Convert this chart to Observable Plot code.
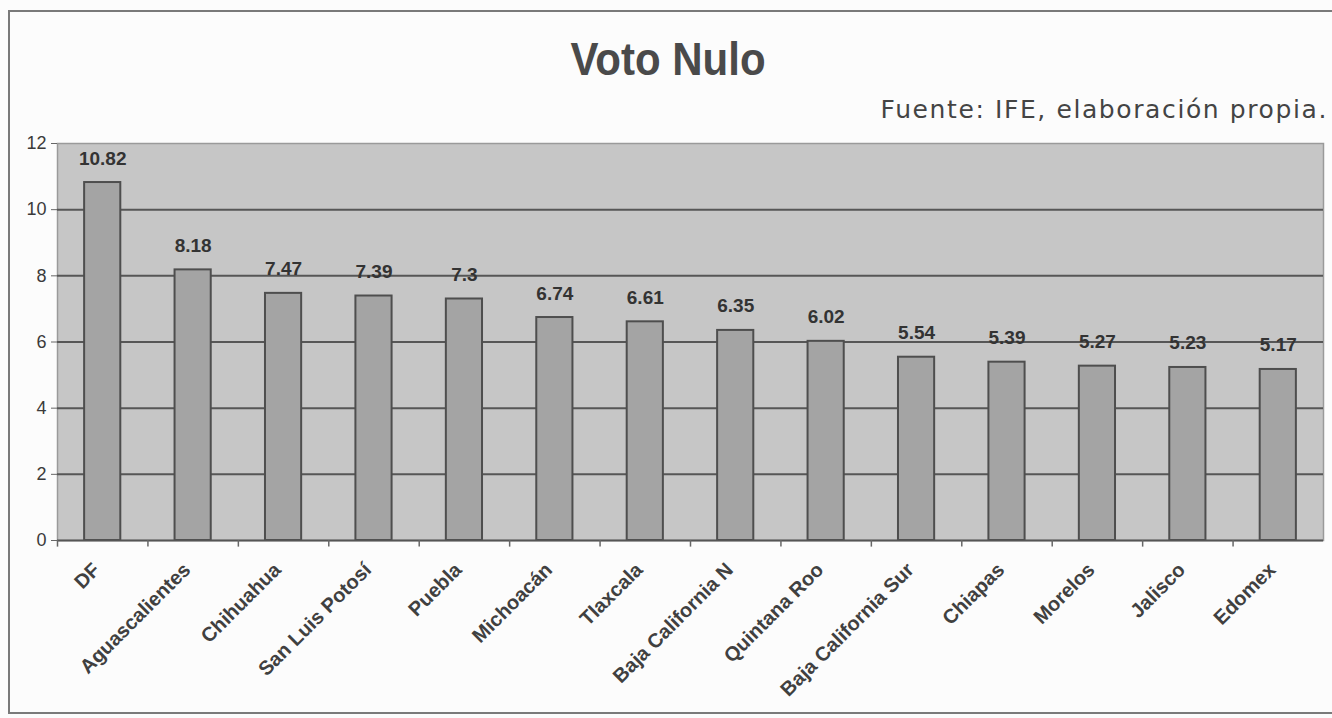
<!DOCTYPE html>
<html>
<head>
<meta charset="utf-8">
<script src="https://cdn.jsdelivr.net/npm/d3@7"></script>
<script src="https://cdn.jsdelivr.net/npm/@observablehq/plot@0.6"></script>
<style>
  html, body { margin: 0; padding: 0; background: #fcfcfc; }
  #wrap { position: relative; width: 1332px; height: 718px; overflow: hidden; }
  #frame { position: absolute; left: 8px; top: 10px; width: 1340px; height: 704px; border: 2px solid #7a7a7a; box-sizing: border-box; }
  #title { position: absolute; left: 0; top: 36px; width: 1336px; text-align: center; font: bold 42px "Liberation Sans", Arial, sans-serif; color: #4a4a4a; transform: scaleY(1.08); }
  #sub { position: absolute; right: 4px; top: 95px; font: 25px "DejaVu Sans", Verdana, sans-serif; letter-spacing: 1.6px; color: #444; white-space: nowrap; }
  #chart { position: absolute; left: 0; top: 128px; }
</style>
</head>
<body>
<div id="wrap">
  <div id="frame"></div>
  <div id="title">Voto Nulo</div>
  <div id="sub">Fuente: IFE, elaboración propia.</div>
  <div id="chart"></div>
</div>
<script>
const states = ["DF", "Aguascalientes", "Chihuahua", "San Luis Potosí", "Puebla", "Michoacán", "Tlaxcala", "Baja California N", "Quintana Roo", "Baja California Sur", "Chiapas", "Morelos", "Jalisco", "Edomex"];
const votoNulo = [10.82, 8.18, 7.47, 7.39, 7.3, 6.74, 6.61, 6.35, 6.02, 5.54, 5.39, 5.27, 5.23, 5.17];
const yTicks = [0, 2, 4, 6, 8, 10, 12];
const gridValues = [2, 4, 6, 8, 10];

const data = states.map((s, i) => ({state: s, value: votoNulo[i]}));

const W = 1332, ML = 57, MR = 9;
const step = (W - ML - MR) / states.length;

const chart = Plot.plot({
  width: W,
  height: 590,
  marginTop: 15,
  marginBottom: 178,
  marginLeft: ML,
  marginRight: MR,
  style: {background: "transparent", fontFamily: "'Liberation Sans', Arial, sans-serif", color: "#333"},
  x: {domain: states, paddingInner: 0.6, paddingOuter: 0.3, align: 0.5, round: false, label: null},
  y: {domain: [0, 12], label: null},
  marks: [
    Plot.frame({fill: "#c6c6c6", stroke: "#9a9a9a", strokeWidth: 1.5}),
    Plot.ruleY(gridValues, {stroke: "#565656", strokeWidth: 2}),
    Plot.barY(data, {x: "state", y: "value", fill: "#a4a4a4", stroke: "#4e4e4e", strokeWidth: 2}),
    Plot.text(data, {x: "state", y: "value", text: d => String(d.value), lineAnchor: "bottom", dy: -18, fontSize: 19, fontWeight: "bold", fill: "#333"}),
    Plot.ruleY([0], {stroke: "#555", strokeWidth: 2}),
    Plot.ruleX(states, {x: d => d, dx: -step / 2, y1: 0, y2: -0.2, stroke: "#666", strokeWidth: 1.5, clip: false}),
    Plot.axisY({ticks: yTicks, tickSize: 6, tickPadding: 5, fontSize: 18, stroke: "#666", fill: "#3a3a3a"}),
    Plot.axisX({tickSize: 0, tickRotate: -45, tickPadding: 26, dx: -6, fontSize: 20, fontWeight: "bold", fill: "#404040"})
  ]
});
document.getElementById("chart").appendChild(chart);
</script>
</body>
</html>
